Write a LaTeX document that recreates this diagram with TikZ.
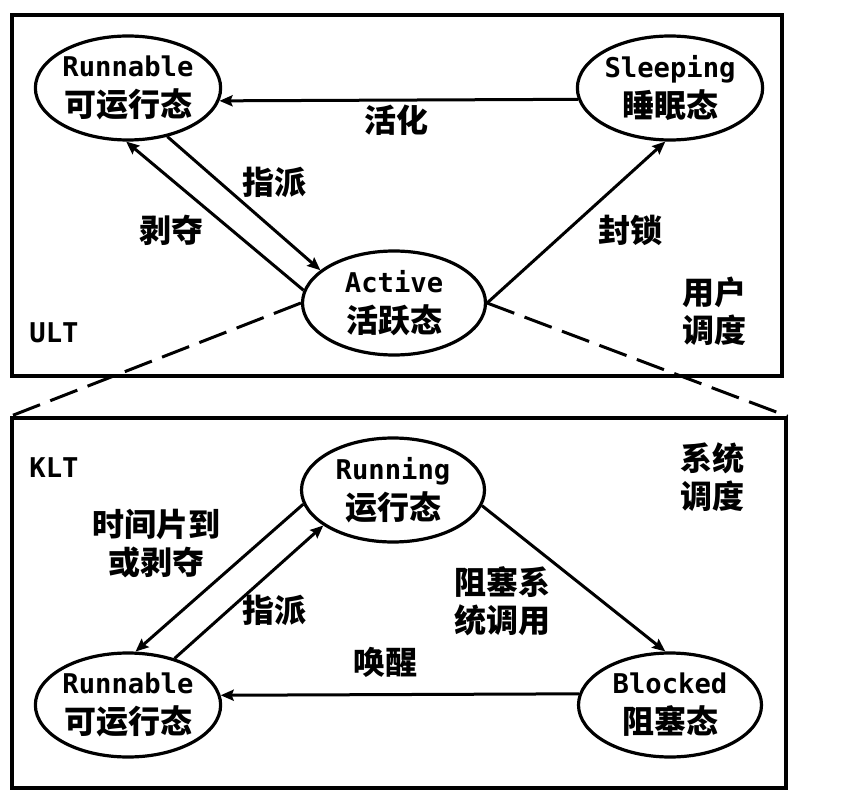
\documentclass[tikz,border=0pt]{standalone}
\usepackage{fontspec}
\setmainfont{Noto Sans CJK SC}
\setmonofont{DejaVu Sans Mono}[Scale=0.85]
\usepackage{tikz}
\usetikzlibrary{shapes.geometric,arrows.meta}
\newcommand{\ltn}[1]{{\ttfamily\bfseries #1}}

\begin{document}
\begin{tikzpicture}[
    x=1pt, y=-1pt,
    frame/.style={rectangle, draw, line width=3.4pt, inner sep=0pt},
    thr/.style={ellipse, draw, line width=3.2pt, minimum width=183pt, minimum height=104pt, inner sep=0pt, align=center, font=\fontsize{32}{40}\selectfont\bfseries},
    lbl/.style={align=center, inner sep=0pt, font=\fontsize{32}{38}\selectfont\bfseries},
    arr/.style={-{Stealth[length=13pt,width=11pt,inset=2pt]}, line width=3pt},
    guide/.style={dash pattern=on 29pt off 11pt, line width=3pt}
]
    \useasboundingbox (0,0) rectangle (853,799);

    % the two frames
    \node[frame, minimum width=770pt, minimum height=361pt] (ult) at (397,195.5) {};
    \node[frame, minimum width=774pt, minimum height=370pt] (klt) at (399,603) {};

    % user level states
    \node[thr] (urun) at (128,88)  {\ltn{Runnable}\\可运行态};
    \node[thr] (slp)  at (670,88)  {\ltn{Sleeping}\\睡眠态};
    \node[thr] (act)  at (394,303) {\ltn{Active}\\活跃态};

    % kernel level states
    \node[thr] (run)  at (393,490) {\ltn{Running}\\运行态};
    \node[thr] (lrun) at (128,705) {\ltn{Runnable}\\可运行态};
    \node[thr] (blk)  at (670,705) {\ltn{Blocked}\\阻塞态};

    % user level transitions
    \draw[arr] (slp.187.6) -- (urun.352.4);
    \draw[arr] (act.172) -- (urun.268);
    \draw[arr] (urun.309) -- (act.156);
    \draw[arr] (act.east) -- (slp.265);

    % kernel level transitions
    \draw[arr] (run.350.5) -- (blk.95);
    \draw[arr] (blk.173.7) -- (lrun.6.3);
    \draw[arr] (run.189.7) -- (lrun.82.5);
    \draw[arr] (lrun.45) -- (run.207);

    % Active maps onto the kernel frame
    \draw[guide] (act.west) -- (klt.north west);
    \draw[guide] (act.east) -- (klt.north east);

    % labels
    \node[lbl] (lwake)  at (396,120) {活化};
    \node[lbl] (ldisp)  at (274,182) {指派};
    \node[lbl] (lpre)   at (171,230) {剥夺};
    \node[lbl] (llock)  at (630,230) {封锁};
    \node[lbl] (lusr)   at (714,311) {用户\\调度};
    \node[lbl] (lult)   at (54,333)  {\ltn{ULT}};
    \node[lbl] (lklt)   at (54,468)  {\ltn{KLT}};
    \node[lbl] (lsys)   at (712,477) {系统\\调度};
    \node[lbl] (lslice) at (156,544) {时间片到\\或剥夺};
    \node[lbl] (ldisp2) at (274,610) {指派};
    \node[lbl] (lrouse) at (385,662) {唤醒};
    \node[lbl] (lblk)   at (502,601) {阻塞系\\统调用};
\end{tikzpicture}
\end{document}
